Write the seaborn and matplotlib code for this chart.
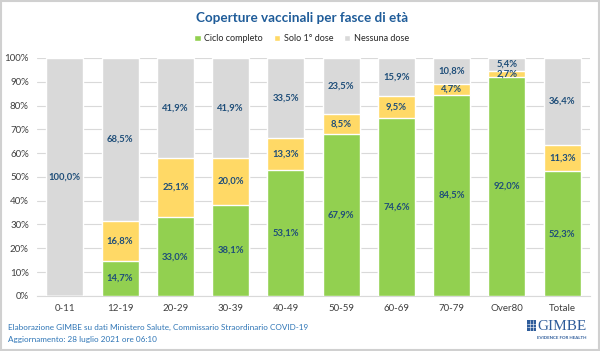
import matplotlib
matplotlib.use("Agg")
import matplotlib.pyplot as plt
import seaborn as sns
import pandas as pd
import numpy as np
from matplotlib.patches import Rectangle

categories = ["0-11", "12-19", "20-29", "30-39", "40-49", "50-59", "60-69", "70-79", "Over80", "Totale"]
ciclo = [0, 14.7, 33.0, 38.1, 53.1, 67.9, 74.6, 84.5, 92.0, 52.3]
prima = [0, 16.8, 25.1, 20.0, 13.3, 8.5, 9.5, 4.7, 2.7, 11.3]
nessuna = [100.0, 68.5, 41.9, 41.9, 33.5, 23.5, 15.9, 10.8, 5.4, 36.4]
series_names = ["Ciclo completo", "Solo 1° dose", "Nessuna dose"]
colors = ["#92D050", "#FFD966", "#D9D9D9"]
yticks = [0, 10, 20, 30, 40, 50, 60, 70, 80, 90, 100]

sns.set_theme(style="white")
plt.rcParams['font.family'] = ['Lato', 'DejaVu Sans']

fig = plt.figure(figsize=(6.0, 3.51), dpi=100)
ax = fig.add_axes([0.062, 0.157, 0.921, 0.678])

df = pd.DataFrame({"cat": categories, "c": ciclo, "p": prima, "n": nessuna})
bottoms = np.zeros(len(categories))
label_color = "#1F4E79"
width = 0.67
for k, (col, name, color) in enumerate(zip(["c", "p", "n"], series_names, colors)):
    vals = df[col].values
    df["_top"] = bottoms + vals
    sns.barplot(data=df, x="cat", y="_top", color=color, ax=ax, width=width,
                saturation=1, label=name, zorder=5 - k)
    for i, v in enumerate(vals):
        if v > 0:
            ax.text(i, bottoms[i] + v / 2, f"{v:.1f}%".replace(".", ","),
                    ha="center", va="center", fontsize=6.8, fontweight="bold",
                    color=label_color, zorder=10)
    bottoms = bottoms + vals

ax.set_ylim(0, 100)
ax.set_xlim(-0.5, len(categories) - 0.5)
ax.set_yticks(yticks)
ax.set_yticklabels([f"{t}%" for t in yticks], fontsize=7, color="#404040")
ax.tick_params(axis="x", labelsize=7, labelcolor="#404040", length=0, pad=6)
ax.tick_params(axis="y", length=0, pad=6)
ax.set_xlabel("")
ax.set_ylabel("")
ax.yaxis.grid(True, color="#D9D9D9", linewidth=0.8, zorder=0)
ax.set_axisbelow(True)
for s in ["top", "right", "left"]:
    ax.spines[s].set_visible(False)
ax.spines["bottom"].set_color("#D9D9D9")
ax.spines["bottom"].set_linewidth(0.8)

handles, labels = ax.get_legend_handles_labels()
ax.legend(handles, labels, loc="center", bbox_to_anchor=(0.503, 0.889),
          bbox_transform=fig.transFigure, ncol=3, frameon=False, fontsize=6.5,
          handlelength=0.7, handleheight=0.7, handletextpad=0.4, columnspacing=1.2)

fig.text(0.503, 0.949, "Coperture vaccinali per fasce di età", ha="center", va="center",
         fontsize=9.7, fontweight="bold", color="#1F5C99")

fig.text(0.013, 0.068, "Elaborazione GIMBE su dati Ministero Salute, Commissario Straordinario COVID-19",
         ha="left", va="center", fontsize=5.9, color="#2E75B6")
fig.text(0.013, 0.034, "Aggiornamento: 28 luglio 2021 ore 06:10",
         ha="left", va="center", fontsize=5.9, color="#2E75B6")

# GIMBE logo
fig.text(0.977, 0.071, "GIMBE", ha="right", va="center", fontsize=11,
         family="Liberation Serif", color="#2E5C9A")
fig.text(0.977, 0.037, "EVIDENCE FOR HEALTH", ha="right", va="center", fontsize=3.2,
         color="#2E5C9A", fontweight="bold")
fig.patches.append(Rectangle((0.878, 0.057), 0.016, 0.03, transform=fig.transFigure,
                             facecolor="#2E5C9A", edgecolor="none"))
for fx in [0.8833, 0.8887]:
    fig.lines.append(plt.Line2D([fx, fx], [0.057, 0.087], transform=fig.transFigure,
                                color="white", linewidth=0.4))
for fy in [0.067, 0.077]:
    fig.lines.append(plt.Line2D([0.878, 0.894], [fy, fy], transform=fig.transFigure,
                                color="white", linewidth=0.4))

# border
fig.patches.append(Rectangle((0.002, 0.003), 0.996, 0.994, transform=fig.transFigure,
                             fill=False, edgecolor="#D0D0D0", linewidth=1.5))

fig.savefig("out.png", dpi=100)
